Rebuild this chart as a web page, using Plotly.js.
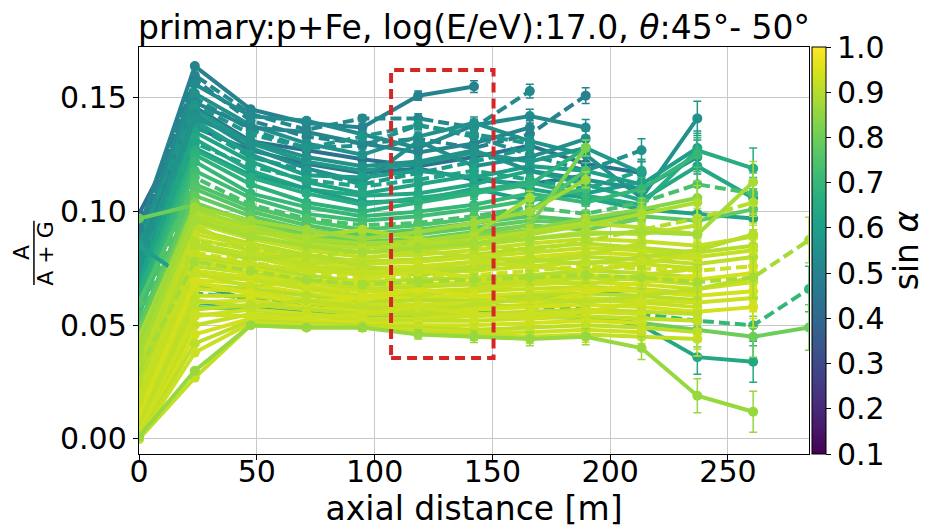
<!DOCTYPE html>
<html>
<head>
<meta charset="utf-8">
<script src="https://cdn.plot.ly/plotly-3.0.1.min.js"></script>
<style>html,body{margin:0;padding:0;background:#fff}</style>
</head>
<body>
<div id="plot" style="width:938px;height:532px"></div>
<script>
// detector positions along the shower axis [m]
const dist = [0, 23.7, 47.4, 71.1, 94.8, 118.5, 142.2, 165.9, 189.6, 213.3, 237.0, 260.7, 284.4];
// typical statistical uncertainty of the ratio at each station
const statErr = [0.0005, 0.0008, 0.001, 0.0012, 0.0015, 0.002, 0.0026, 0.003, 0.0035, 0.005, 0.0075, 0.009, 0.01];

// sin(alpha) of each event, in drawing order
const sinAlpha = [
  0.44, 0.46,
  0.50, 0.52, 0.49, 0.53, 0.55, 0.55, 0.51, 0.57, 0.58, 0.54, 0.60, 0.58, 0.62, 0.64, 0.60, 0.56, 0.62, 0.66,
  0.68, 0.70, 0.72, 0.74, 0.75, 0.76, 0.78, 0.80, 0.82, 0.84,
  0.60, 0.64, 0.70, 0.80,
  0.88, 0.90, 0.91, 0.92, 0.90, 0.92, 0.93, 0.91, 0.92, 0.93, 0.90, 0.94, 0.91, 0.93, 0.92, 0.94, 0.90, 0.93,
  0.92, 0.94, 0.91, 0.93, 0.92, 0.94, 0.91, 0.93, 0.92,
  0.91, 0.90, 0.93, 0.92, 0.94, 0.91, 0.93, 0.89, 0.87, 0.90, 0.92,
  0.86, 0.88, 0.88
];
// 1 = dashed line
const dashed = [
  0, 0,
  0, 1, 1, 0, 0, 1, 0, 1, 0, 0, 0, 1, 0, 0, 0, 0, 1, 0,
  0, 0, 0, 1, 0, 0, 0, 0, 0, 0,
  0, 0, 1, 0,
  0, 0, 0, 0, 0, 0, 0, 0, 0, 1, 0, 0, 0, 0, 0, 0, 0, 0,
  0, 0, 0, 0, 0, 0, 0, 0, 0,
  0, 0, 0, 0, 0, 0, 0, 0, 0, 1, 0,
  0, 1, 0
];
// A/(A+G) per station; rows end where the event has no further stations
const ratio = [
  [0.099, 0.146, 0.131, 0.127, 0.123, 0.120, 0.124, 0.129, 0.121, 0.117],
  [0.094, 0.137, 0.127, 0.121, 0.117, 0.119, 0.114, 0.112, 0.116],
  [0.092, 0.164, 0.145, 0.139, 0.137, 0.151, 0.155],
  [0.088, 0.160, 0.143, 0.136, 0.141, 0.141, 0.137, 0.153],
  [0.090, 0.158, 0.140, 0.133, 0.130, 0.132, 0.128, 0.134, 0.151],
  [0.085, 0.156, 0.142, 0.140, 0.134, 0.128, 0.138, 0.142, 0.137],
  [0.080, 0.152, 0.138, 0.130, 0.125, 0.133, 0.139, 0.131, 0.125, 0.106, 0.141],
  [0.083, 0.150, 0.136, 0.128, 0.129, 0.138, 0.133, 0.125, 0.118, 0.127],
  [0.078, 0.148, 0.137, 0.135, 0.130, 0.126, 0.130, 0.137],
  [0.086, 0.147, 0.134, 0.128, 0.133, 0.138, 0.134, 0.130],
  [0.075, 0.145, 0.130, 0.122, 0.118, 0.121, 0.126, 0.122, 0.128, 0.117],
  [0.072, 0.143, 0.128, 0.119, 0.113, 0.131, 0.120, 0.124, 0.132],
  [0.070, 0.140, 0.125, 0.116, 0.115, 0.118, 0.115, 0.120, 0.118, 0.112, 0.128],
  [0.074, 0.138, 0.124, 0.118, 0.112, 0.117, 0.122, 0.128],
  [0.068, 0.135, 0.122, 0.113, 0.108, 0.112, 0.116, 0.110, 0.106, 0.101, 0.099, 0.097],
  [0.065, 0.132, 0.118, 0.110, 0.107, 0.108, 0.112, 0.118, 0.112, 0.105, 0.120, 0.106],
  [0.062, 0.128, 0.116, 0.110, 0.104, 0.105, 0.110, 0.105, 0.108, 0.113],
  [0.079, 0.141, 0.131, 0.124, 0.120, 0.122, 0.127, 0.118, 0.114, 0.110, 0.124],
  [0.067, 0.130, 0.120, 0.114, 0.111, 0.114, 0.118, 0.114, 0.110, 0.118],
  [0.064, 0.127, 0.115, 0.108, 0.103, 0.106, 0.109, 0.113, 0.107, 0.103, 0.127, 0.119],
  [0.060, 0.125, 0.112, 0.104, 0.100, 0.104, 0.108, 0.112, 0.128],
  [0.058, 0.122, 0.108, 0.102, 0.098, 0.100, 0.103, 0.108, 0.104, 0.110, 0.125],
  [0.055, 0.118, 0.106, 0.099, 0.096, 0.098, 0.101, 0.105, 0.110],
  [0.052, 0.115, 0.103, 0.097, 0.094, 0.095, 0.098, 0.102, 0.099, 0.104, 0.112, 0.108],
  [0.060, 0.112, 0.102, 0.096, 0.092, 0.094, 0.097, 0.100, 0.118],
  [0.050, 0.110, 0.100, 0.094, 0.090, 0.092, 0.095, 0.098, 0.096, 0.100],
  [0.048, 0.107, 0.098, 0.092, 0.089, 0.090, 0.093, 0.096, 0.095, 0.098, 0.096, 0.101],
  [0.097, 0.103, 0.096, 0.090, 0.087, 0.088, 0.091, 0.094, 0.092, 0.097],
  [0.044, 0.104, 0.095, 0.089, 0.086, 0.087, 0.090, 0.094, 0.128],
  [0.043, 0.101, 0.093, 0.087, 0.085, 0.086, 0.089, 0.092, 0.097, 0.101, 0.106],
  [0.085, 0.068, 0.061, 0.058, 0.057, 0.058, 0.060, 0.062, 0.064, 0.066],
  [0.012, 0.060, 0.058, 0.056, 0.055, 0.055, 0.056, 0.055, 0.054, 0.050, 0.036, 0.034],
  [0.020, 0.064, 0.062, 0.060, 0.058, 0.058, 0.059, 0.058, 0.057, 0.055, 0.052, 0.050, 0.066],
  [0.015, 0.058, 0.057, 0.055, 0.054, 0.054, 0.055, 0.054, 0.053, 0.051, 0.048, 0.045, 0.049],
  [0.045, 0.100, 0.094, 0.088, 0.086, 0.087, 0.090, 0.106],
  [0.040, 0.099, 0.092, 0.086, 0.084, 0.085, 0.088, 0.091, 0.095, 0.093, 0.090],
  [0.035, 0.097, 0.090, 0.084, 0.082, 0.083, 0.085, 0.088, 0.091, 0.090, 0.094],
  [0.030, 0.095, 0.088, 0.083, 0.080, 0.081, 0.083, 0.086, 0.088, 0.087, 0.085, 0.089],
  [0.028, 0.092, 0.086, 0.081, 0.078, 0.079, 0.081, 0.084, 0.086, 0.084, 0.082, 0.085],
  [0.025, 0.090, 0.085, 0.079, 0.077, 0.078, 0.080, 0.082, 0.084, 0.083, 0.080, 0.083],
  [0.022, 0.088, 0.083, 0.078, 0.075, 0.076, 0.078, 0.080, 0.082, 0.081, 0.079],
  [0.020, 0.086, 0.081, 0.076, 0.074, 0.074, 0.076, 0.078, 0.080, 0.079, 0.077, 0.080],
  [0.018, 0.084, 0.080, 0.075, 0.072, 0.073, 0.074, 0.076, 0.078, 0.077, 0.075],
  [0.016, 0.082, 0.078, 0.073, 0.071, 0.071, 0.072, 0.074, 0.076, 0.075, 0.074, 0.076],
  [0.015, 0.080, 0.076, 0.072, 0.069, 0.070, 0.071, 0.072, 0.074, 0.073, 0.071],
  [0.013, 0.078, 0.075, 0.070, 0.068, 0.068, 0.069, 0.071, 0.072, 0.071, 0.070, 0.073],
  [0.012, 0.076, 0.073, 0.069, 0.066, 0.067, 0.068, 0.069, 0.071, 0.070, 0.068],
  [0.010, 0.074, 0.071, 0.067, 0.065, 0.065, 0.066, 0.068, 0.069, 0.068, 0.066, 0.069],
  [0.009, 0.072, 0.070, 0.066, 0.063, 0.064, 0.065, 0.066, 0.067, 0.066, 0.064],
  [0.008, 0.070, 0.068, 0.064, 0.062, 0.062, 0.063, 0.064, 0.066, 0.065, 0.063, 0.065],
  [0.007, 0.068, 0.066, 0.063, 0.060, 0.061, 0.061, 0.063, 0.064, 0.063, 0.061],
  [0.006, 0.066, 0.065, 0.061, 0.059, 0.059, 0.060, 0.061, 0.062, 0.061, 0.060, 0.062],
  [0.005, 0.063, 0.063, 0.060, 0.057, 0.058, 0.058, 0.059, 0.061, 0.060, 0.058],
  [0.004, 0.060, 0.061, 0.058, 0.056, 0.056, 0.057, 0.058, 0.059, 0.058, 0.056, 0.058],
  [0.003, 0.057, 0.059, 0.057, 0.055, 0.055, 0.055, 0.056, 0.057, 0.056, 0.055],
  [0.002, 0.054, 0.057, 0.055, 0.053, 0.053, 0.054, 0.055, 0.056, 0.055],
  [0.002, 0.050, 0.055, 0.054, 0.052, 0.052, 0.052, 0.053, 0.054, 0.053, 0.052],
  [0.001, 0.046, 0.053, 0.052, 0.051, 0.050, 0.050, 0.051, 0.052, 0.051],
  [0.001, 0.042, 0.052, 0.051, 0.050, 0.049, 0.048, 0.049, 0.050, 0.049, 0.047],
  [0.000, 0.038, 0.051, 0.050, 0.049, 0.048, 0.047, 0.047, 0.048, 0.047],
  [0.000, 0.027, 0.050, 0.049, 0.049, 0.047, 0.046, 0.045, 0.046, 0.045, 0.044],
  [0.033, 0.094, 0.082, 0.077, 0.079, 0.083, 0.080, 0.078, 0.081, 0.086],
  [0.026, 0.085, 0.079, 0.081, 0.076, 0.072, 0.075, 0.079, 0.077, 0.080, 0.083, 0.090],
  [0.019, 0.079, 0.072, 0.068, 0.070, 0.074, 0.071, 0.069, 0.073, 0.078],
  [0.014, 0.073, 0.067, 0.070, 0.067, 0.063, 0.066, 0.070, 0.068, 0.072, 0.075],
  [0.011, 0.069, 0.064, 0.060, 0.062, 0.066, 0.063, 0.060, 0.064, 0.069, 0.072],
  [0.005, 0.061, 0.058, 0.061, 0.058, 0.056, 0.059, 0.062, 0.060, 0.063, 0.066, 0.071],
  [0.003, 0.055, 0.054, 0.053, 0.055, 0.058, 0.055, 0.053, 0.056, 0.060],
  [0.036, 0.098, 0.091, 0.089, 0.092, 0.088, 0.086, 0.090, 0.094, 0.099, 0.104],
  [0.041, 0.102, 0.096, 0.092, 0.088, 0.091, 0.095, 0.100, 0.114],
  [0.024, 0.087, 0.084, 0.080, 0.083, 0.087, 0.085, 0.083, 0.087, 0.092, 0.097, 0.104],
  [0.017, 0.081, 0.077, 0.074, 0.073, 0.075, 0.078, 0.076, 0.074, 0.077, 0.082],
  [0.001, 0.030, 0.050, 0.049, 0.049, 0.046, 0.045, 0.044, 0.045, 0.040, 0.019, 0.012],
  [0.030, 0.078, 0.074, 0.070, 0.068, 0.069, 0.070, 0.071, 0.072, 0.071, 0.069, 0.071, 0.0875],
  [0.038, 0.096, 0.089, 0.085, 0.082, 0.084, 0.086, 0.088, 0.090, 0.091, 0.090, 0.113]
];

// matplotlib/plotly viridis
const viridisStops = ['#440154', '#48186a', '#472d7b', '#424086', '#3b528b', '#33638d', '#2c728e', '#26828e',
  '#21918c', '#1fa088', '#28ae80', '#3fbc73', '#5ec962', '#84d44b', '#addc30', '#d8e219', '#fde725'];
const cMin = 0.1, cMax = 1.0;

function hexToRgb(h) {
  return [parseInt(h.slice(1, 3), 16), parseInt(h.slice(3, 5), 16), parseInt(h.slice(5, 7), 16)];
}
function viridis(v) {
  let t = Math.min(1, Math.max(0, (v - cMin) / (cMax - cMin)));
  const pos = viridisStops.map((s, k) => k === viridisStops.length - 1 ? 1 : k * 16 / 255);
  let k = 0;
  while (k < pos.length - 2 && t > pos[k + 1]) k++;
  const f = (t - pos[k]) / (pos[k + 1] - pos[k]);
  const a = hexToRgb(viridisStops[k]), b = hexToRgb(viridisStops[k + 1]);
  const c = a.map((x, j) => Math.round(x + (b[j] - x) * f));
  return 'rgb(' + c.join(',') + ')';
}

const traces = ratio.map((row, i) => {
  const col = viridis(sinAlpha[i]);
  return {
    type: 'scatter', mode: 'lines+markers',
    x: dist.slice(0, row.length), y: row,
    line: {color: col, width: 4, dash: dashed[i] ? '11px,5px' : 'solid'},
    marker: {color: col, size: 10},
    error_y: {type: 'data', array: statErr.slice(0, row.length), color: col, thickness: 1.5, width: 4},
    showlegend: false, hoverinfo: 'skip'
  };
});

// colour bar only
traces.push({
  type: 'scatter', mode: 'markers',
  x: [dist[0]], y: [ratio[0][0]],
  marker: {
    size: 1, opacity: 0, color: [sinAlpha[0]], cmin: cMin, cmax: cMax, colorscale: 'Viridis', showscale: true,
    colorbar: {
      x: 1.0044, xanchor: 'left', xpad: 0, ypad: 0, y: 0.5, yanchor: 'middle', len: 1, thickness: 14,
      outlinewidth: 1, outlinecolor: '#000',
      ticks: 'outside', ticklen: 5, tickcolor: '#000', tick0: 0.1, dtick: 0.1, tickformat: '.1f',
      tickfont: {size: 30},
      title: {text: 'sin <i>α</i>', side: 'right', font: {size: 33}}
    }
  },
  showlegend: false, hoverinfo: 'skip'
});

const highlightX = [107, 150.5];
const highlightY = [0.0356, 0.1623];

const layout = {
  width: 938, height: 532,
  margin: {l: 139, r: 123, t: 47, b: 78},
  paper_bgcolor: '#fff', plot_bgcolor: '#fff',
  font: {family: 'DejaVu Sans', size: 30, color: '#000'},
  title: {
    text: 'primary:p+Fe, log(E/eV):17.0, <i>θ</i>:45°- 50°',
    xref: 'paper', x: 0.5, xanchor: 'center',
    yref: 'container', y: 1 - 27 / 532, yanchor: 'middle',
    font: {size: 33}
  },
  xaxis: {
    range: [0, 284.4], tick0: 0, dtick: 50,
    showgrid: true, gridcolor: '#c8c8c8', gridwidth: 1, zeroline: false,
    showline: true, linecolor: '#000', linewidth: 1.2, mirror: true,
    ticks: 'outside', ticklen: 5, tickcolor: '#000', ticklabelstandoff: -14,
    title: {text: 'axial distance [m]', font: {size: 33}, standoff: 2}
  },
  yaxis: {
    range: [-0.0066, 0.1724], tick0: 0, dtick: 0.05, tickformat: '.2f',
    showgrid: true, gridcolor: '#c8c8c8', gridwidth: 1, zeroline: false,
    showline: true, linecolor: '#000', linewidth: 1.2, mirror: true,
    ticks: 'outside', ticklen: 5, tickcolor: '#000'
  },
  shapes: [
    {type: 'rect', xref: 'x', yref: 'y', x0: highlightX[0], x1: highlightX[1], y0: highlightY[0], y1: highlightY[1],
     line: {color: '#d62728', width: 4, dash: '10px,6px'}, fillcolor: 'rgba(0,0,0,0)'},
    {type: 'line', xref: 'paper', yref: 'paper', x0: -0.1568, x1: -0.1568, y0: 0.415, y1: 0.573,
     line: {color: '#000', width: 1.5}}
  ],
  annotations: [
    {text: 'A', xref: 'paper', yref: 'paper', x: -0.1745, y: 0.494, xanchor: 'center', yanchor: 'middle',
     textangle: -90, showarrow: false, font: {size: 22}},
    {text: 'A + G', xref: 'paper', yref: 'paper', x: -0.1390, y: 0.494, xanchor: 'center', yanchor: 'middle',
     textangle: -90, showarrow: false, font: {size: 22}}
  ]
};

Plotly.newPlot('plot', traces, layout, {staticPlot: true});
</script>
</body>
</html>
